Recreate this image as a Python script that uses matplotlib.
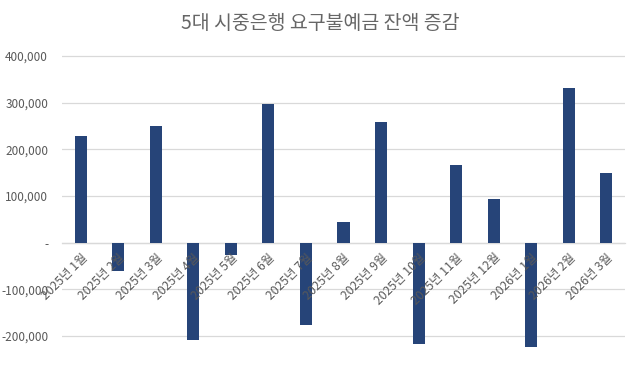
import numpy as np
import matplotlib.pyplot as plt
from matplotlib.ticker import FuncFormatter

plt.rcParams['font.family'] = ['Noto Sans CJK KR', 'DejaVu Sans']

months = ['2025년 1월', '2025년 2월', '2025년 3월', '2025년 4월', '2025년 5월',
          '2025년 6월', '2025년 7월', '2025년 8월', '2025년 9월', '2025년 10월',
          '2025년 11월', '2025년 12월', '2026년 1월', '2026년 2월', '2026년 3월']
change = [229000, -60000, 249000, -208000, -26000,
          298000, -176000, 44000, 259000, -218000,
          166000, 93000, -224000, 331000, 150000]

bar_color = '#264478'
text_color = '#595959'
grid_color = '#d9d9d9'

# axes span -230k..405k so bars below -200k are not cut off
y_lo, y_hi = -230000, 405000
px_per = 280 / 600000          # 280 px between the -200k and 400k gridlines
bottom_px = 336 + (-200000 - y_lo) * px_per
top_px = 56 - (y_hi - 400000) * px_per
H = 369.0
fig = plt.figure(figsize=(6.4, 3.69), dpi=100)
ax = fig.add_axes([62 / 640, (H - bottom_px) / H, 563 / 640, (bottom_px - top_px) / H])

x = np.arange(len(months))
ax.bar(x, change, width=0.32, color=bar_color, zorder=3)

ax.set_xlim(-0.5, len(months) - 0.5)
ax.set_ylim(y_lo, y_hi)
ax.set_yticks(np.arange(-200000, 400001, 100000))


def fmt(v, pos):
    if v == 0:
        return '-'
    return f'{int(v):,}'


ax.yaxis.set_major_formatter(FuncFormatter(fmt))
ax.grid(axis='y', color=grid_color, linewidth=0.9, zorder=0)

for s in ['top', 'right', 'left']:
    ax.spines[s].set_visible(False)
ax.spines['bottom'].set_position(('data', 0))
ax.spines['bottom'].set_color(grid_color)
ax.spines['bottom'].set_linewidth(0.9)

ax.set_xticks(x)
ax.set_xticklabels(months, rotation=45, ha='right', rotation_mode='anchor',
                   fontsize=8.8, color=text_color)
ax.tick_params(axis='x', length=0, pad=6)
ax.tick_params(axis='y', length=0, labelsize=8.5, labelcolor=text_color, pad=10)
# month labels sit on top of the negative bars, as in the original
ax.xaxis.set_zorder(5)

fig.text(0.5, 0.935, '5대 시중은행 요구불예금 잔액 증감', ha='center', va='center',
         fontsize=14, color='#666666')

fig.savefig('out.png', dpi=100)
